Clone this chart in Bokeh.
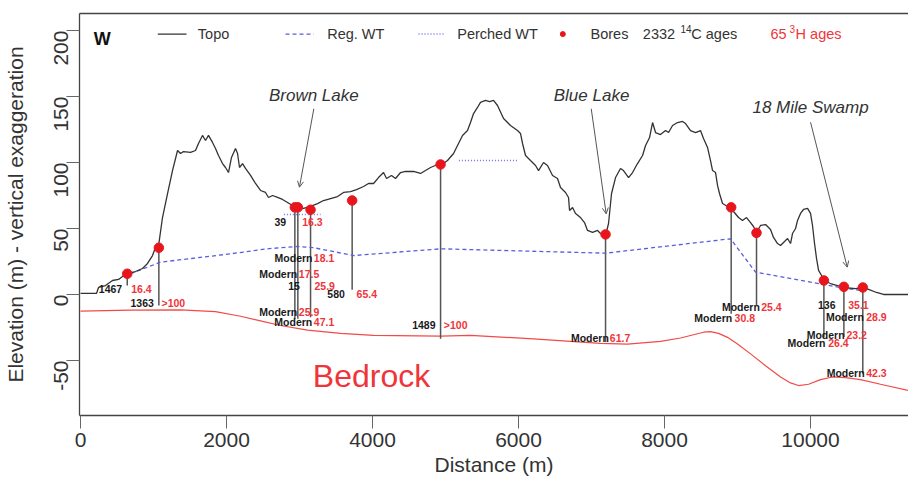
import math

from bokeh.plotting import figure
from bokeh.models import Range1d, LinearAxis, FixedTicker, Arrow, OpenHead
from bokeh.embed import file_html
from bokeh.resources import INLINE
from bokeh.core.properties import value

FONT = "Liberation Sans"

# Ground surface along the transect (distance m, elevation m)
topo_x = [0, 219, 247, 342, 438, 521, 575, 644, 753, 849, 918, 986, 1027, 1068, 1123, 1192,
          1260, 1329, 1370, 1411, 1507, 1575, 1616, 1671, 1712, 1753, 1808, 1849, 1890, 1945,
          1986, 2027, 2068, 2123, 2151, 2178, 2219, 2260, 2329, 2397, 2466, 2534, 2575, 2630,
          2699, 2767, 2836, 2904, 2973, 3055, 3151, 3247, 3329, 3425, 3521, 3603, 3699, 3781,
          3877, 3945, 4014, 4082, 4151, 4192, 4260, 4315, 4384, 4452, 4562, 4658, 4726, 4795,
          4890, 4973, 5027, 5110, 5178, 5233, 5301, 5342, 5384, 5438, 5479, 5548, 5603, 5658,
          5712, 5795, 5890, 5986, 6027, 6055, 6096, 6164, 6233, 6274, 6342, 6397, 6466, 6534,
          6575, 6644, 6685, 6699, 6740, 6781, 6849, 6904, 6945, 7014, 7082, 7123, 7192, 7233,
          7274, 7329, 7397, 7438, 7507, 7562, 7630, 7699, 7740, 7795, 7836, 7877, 7945, 8014,
          8055, 8110, 8178, 8247, 8288, 8356, 8425, 8493, 8534, 8589, 8630, 8658, 8699, 8726,
          8753, 8795, 8863, 8904, 8945, 9014, 9068, 9123, 9178, 9219, 9260, 9315, 9384, 9452,
          9493, 9548, 9589, 9630, 9685, 9726, 9753, 9795, 9822, 9863, 9904, 9959, 10000, 10027,
          10055, 10082, 10110, 10151, 10178, 10274, 10370, 10452, 10616, 10712, 10795, 10904,
          11000, 11342]
topo_y = [0.8, 0.8, 5.3, 6.8, 10.6, 11.4, 13.6, 15.9, 17.4, 19.7, 23.5, 29.5, 35.6, 36.4, 58.3,
          76.5, 93.9, 109.1, 106.8, 108.3, 107.6, 109.1, 114.4, 120.5, 116.7, 120.5, 115.2,
          110.6, 105.3, 99.2, 96.2, 92.4, 103.8, 110.6, 106.8, 96.2, 99.2, 95.5, 90.2, 84.1,
          78.8, 77.3, 73.5, 75.0, 73.5, 72.0, 69.7, 67.4, 65.9, 65.2, 66.7, 68.9, 71.2, 72.7,
          74.2, 77.3, 78.0, 79.5, 81.8, 84.1, 84.1, 88.6, 92.4, 87.9, 90.2, 87.9, 92.4, 93.2,
          93.2, 91.7, 93.9, 96.2, 98.5, 99.2, 101.5, 106.8, 114.4, 120.5, 124.2, 130.3, 137.1,
          141.7, 145.5, 147.0, 146.2, 147.0, 143.2, 133.3, 128.0, 124.2, 122.0, 114.4, 105.3,
          101.5, 97.7, 93.9, 100.0, 97.7, 90.2, 87.9, 81.1, 77.3, 73.5, 63.6, 65.9, 61.4, 58.3,
          54.5, 48.5, 47.0, 48.5, 46.2, 44.7, 53.8, 76.5, 88.6, 95.5, 93.9, 88.6, 92.4, 99.2,
          105.3, 112.9, 118.9, 130.3, 122.7, 121.2, 124.2, 122.7, 128.0, 130.3, 131.1, 129.5,
          124.2, 122.7, 124.2, 118.2, 111.4, 101.5, 93.9, 92.4, 82.6, 76.5, 68.9, 66.7, 65.9,
          62.9, 58.3, 56.1, 58.3, 54.5, 51.5, 47.0, 52.3, 53.0, 49.2, 43.2, 38.6, 37.1, 39.4,
          42.4, 38.6, 46.2, 50.0, 56.1, 61.4, 64.4, 65.2, 61.4, 52.3, 38.6, 27.3, 18.2, 14.4,
          10.6, 8.3, 6.8, 5.3, 4.5, 5.3, 3.8, 1.5, 0.0, 0.0]

# Regional water table
wt_x = [685, 1096, 2055, 2557, 2968, 3196, 3744, 4932, 5479, 7192, 8904, 9247, 10457, 10708]
wt_y = [15.7, 24.5, 30.8, 34.6, 36.4, 35.4, 29.5, 34.6, 33.8, 31.3, 42.2, 16.9, 4.8, 3.0]

# Perched water tables (start, end, level)
perched_x0 = [2785, 5183]
perched_x1 = [3288, 5982]
perched_y = [60.6, 101.5]

# Bedrock surface
bed_x = [0, 685, 1370, 1849, 2192, 2466, 2740, 3110, 3562, 4014, 4932, 5342, 6205, 7123,
         7493, 7945, 8219, 8397, 8534, 8630, 8740, 8863, 9000, 9178, 9384, 9589, 9726, 9836,
         9973, 10137, 10301, 10479, 10685, 10959, 11342]
bed_y = [-12.6, -11.8, -11.6, -13.0, -16.5, -20.0, -23.5, -27.0, -29.5, -31.0, -31.5, -31.0,
         -33.6, -37.0, -37.6, -35.5, -33.0, -30.5, -28.6, -28.2, -29.5, -32.5, -37.5, -45.0,
         -54.0, -62.5, -67.0, -69.0, -68.0, -64.5, -62.5, -63.0, -64.5, -68.0, -72.7]

# Bores: collar and deepest screen
bore_x = [640, 1073, 2936, 2977, 3151, 3721, 4932, 7192, 8913, 9260, 10183, 10457, 10716]
bore_top = [15.7, 35.4, 66.0, 66.0, 64.2, 71.2, 98.5, 45.5, 66.0, 46.7, 10.6, 5.8, 5.3]
bore_bottom = [6.8, -8.3, -18.4, -18.4, -17.2, 3.5, -33.6, -36.0, -14.6, -8.3, -32.3, -32.3, -60.0]

# Sample ages at each screen: 14C age (black, left of bore) and 3H age (red, right of bore)
age_y = [4.3, -6.6, 54.8, 27.5, 15.7, 6.3, 0.5, -13.4, -21.0, -23.5, -32.8, -9.6, -17.7,
         -8.3, -16.7, -30.6, -36.9, -59.6]
c14_label = ["1467", "1363", "39", "Modern", "Modern", "15", "580", "Modern", "Modern", "1489",
             "Modern", "Modern", "Modern", "136", "Modern", "Modern", "Modern", "Modern"]
c14_x = [571, 1005, 2817, 3178, 2968, 3004, 3621, 2968, 3174, 4863, 7237, 9305, 8927, 10342,
         10730, 10466, 10205, 10740]
h3_label = ["16.4", ">100", "16.3", "18.1", "17.5", "25.9", "65.4", "25.9", "47.1", ">100",
            "61.7", "25.4", "30.8", "35.1", "28.9", "23.2", "26.4", "42.3"]
h3_x = [695, 1110, 3037, 3196, 2990, 3205, 3781, 2990, 3196, 4977, 7251, 9325, 8959, 10516,
        10763, 10493, 10242, 10763]

# Named features with pointer arrows
feat_label = ["Brown Lake", "Blue Lake", "18 Mile Swamp"]
feat_x = [3196, 7000, 10000]
feat_y = [150.8, 150.8, 141.7]
arrow_x0 = [3196, 6996, 10000]
arrow_y0 = [140.7, 140.7, 130.5]
arrow_x1 = [2999, 7201, 10503]
arrow_y1 = [81.3, 61.1, 20.7]

x_ticks = [0, 2000, 4000, 6000, 8000, 10000]
y_ticks = [-50, 0, 50, 100, 150, 200]

DARK = "#333333"
RED_PT = "#e8161c"
RED_TXT = "#f0353a"
BLUE = "#5c5ce0"

p = figure(width=908, height=486, output_backend="svg", toolbar_location=None,
           x_range=Range1d(-14, 11342), y_range=Range1d(-91.7, 212.9),
           min_border_left=79, min_border_right=0, min_border_top=13, min_border_bottom=71,
           x_axis_location=None, y_axis_location=None)
p.grid.visible = False
p.outline_line_color = None
p.background_fill_color = "white"
p.border_fill_color = "white"


def style_axis(ax, ticks):
    ax.ticker = FixedTicker(ticks=ticks)
    ax.major_label_overrides = {t: str(t) for t in ticks}
    ax.axis_line_color = "#444444"
    ax.axis_line_width = 1.3
    ax.major_tick_line_color = "#666666"
    ax.major_tick_line_width = 1
    ax.major_tick_in = 0
    ax.major_tick_out = 13
    ax.minor_tick_line_color = None
    ax.major_label_text_font = FONT
    ax.major_label_text_font_size = "21px"
    ax.major_label_text_color = DARK
    ax.axis_label_text_font = FONT
    ax.axis_label_text_font_size = "21px"
    ax.axis_label_text_font_style = "normal"
    ax.axis_label_text_color = DARK


xax = LinearAxis(axis_label="Distance (m)")
style_axis(xax, x_ticks)
xax.major_label_standoff = 4
xax.axis_label_standoff = 3
p.add_layout(xax, "below")

yax = LinearAxis(axis_label="Elevation (m) - vertical exaggeration")
style_axis(yax, y_ticks)
yax.major_label_orientation = math.pi / 2
yax.major_label_standoff = 5
yax.axis_label_standoff = 18
p.add_layout(yax, "left")

top = LinearAxis(ticker=FixedTicker(ticks=[]), axis_line_color="#444444", axis_line_width=1.3,
                 major_tick_line_color=None, minor_tick_line_color=None,
                 major_label_text_font_size="0px")
p.add_layout(top, "above")

# Bedrock
p.line(bed_x, bed_y, line_color="#f24a48", line_width=1.2)
p.text(x=[3986], y=[-62.1], text=["Bedrock"], text_font=value(FONT), text_font_size="32px",
       text_color=RED_TXT, text_align="center", text_baseline="middle")

# Bore casings
p.segment(x0=bore_x, y0=bore_top, x1=bore_x, y1=bore_bottom, line_color="#555555",
          line_width=1.5)

# Water tables and ground surface
p.line(wt_x, wt_y, line_color=BLUE, line_width=1.3, line_dash="4 3")
p.segment(x0=perched_x0, y0=perched_y, x1=perched_x1, y1=perched_y, line_color="#6f6ff5",
          line_width=1.5, line_dash="1 2")
p.line(topo_x, topo_y, line_color=DARK, line_width=1.3)

# Bore collars
p.scatter(bore_x, bore_top, size=9.5, fill_color=RED_PT, line_color=RED_PT)

# Sample age labels
p.text(x=c14_x, y=age_y, text=c14_label, text_font=value(FONT), text_font_size="10.5px",
       text_font_style="bold", text_color="#1a1a1a", text_align="right", text_baseline="middle")
p.text(x=h3_x, y=age_y, text=h3_label, text_font=value(FONT), text_font_size="10.5px",
       text_font_style="bold", text_color=RED_TXT, text_align="left", text_baseline="middle")

# Feature names and pointers
p.text(x=feat_x, y=feat_y, text=feat_label, text_font=value(FONT), text_font_size="17px",
       text_font_style="italic", text_color=DARK, text_align="center", text_baseline="middle")
for i in range(len(feat_label)):
    p.add_layout(Arrow(end=OpenHead(size=6, line_color="#555555", line_width=1),
                       x_start=arrow_x0[i], y_start=arrow_y0[i],
                       x_end=arrow_x1[i], y_end=arrow_y1[i],
                       line_color="#555555", line_width=1))

# Panel letter and legend row
p.text(x=[297], y=[193.6], text=["W"], text_font=value(FONT), text_font_size="18px",
       text_font_style="bold", text_color="#111111", text_align="center",
       text_baseline="middle")

LEG_Y = 197.3
p.line([1059, 1452], [LEG_Y, LEG_Y], line_color=DARK, line_width=1.3)
p.line([2808, 3196], [LEG_Y, LEG_Y], line_color=BLUE, line_width=1.3, line_dash="4 3")
p.line([4630, 5000], [LEG_Y, LEG_Y], line_color="#6f6ff5", line_width=1.5, line_dash="1 2")
p.scatter([6607], [LEG_Y], size=5, fill_color=RED_PT, line_color=RED_PT)
p.text(x=[1607, 3379, 5160, 6986, 7703, 8366], y=[LEG_Y] * 6,
       text=["Topo", "Reg. WT", "Perched WT", "Bores", "2332", "C ages"],
       text_font=value(FONT), text_font_size="14.5px", text_color=DARK,
       text_align="left", text_baseline="middle")
p.text(x=[8219], y=[201.2], text=["14"], text_font=value(FONT), text_font_size="10px",
       text_color=DARK, text_align="left", text_baseline="middle")
p.text(x=[9452, 9795], y=[LEG_Y] * 2, text=["65", "H ages"], text_font=value(FONT),
       text_font_size="14.5px", text_color=RED_TXT, text_align="left", text_baseline="middle")
p.text(x=[9712], y=[201.2], text=["3"], text_font=value(FONT), text_font_size="10px",
       text_color=RED_TXT, text_align="left", text_baseline="middle")

open("out.html", "w").write(file_html(p, INLINE))
